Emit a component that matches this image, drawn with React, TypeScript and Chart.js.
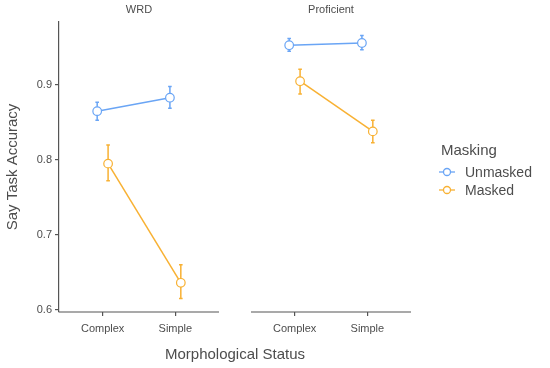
import React, { useEffect, useRef } from "react";
import { Chart, registerables } from "chart.js";

Chart.register(...registerables);

const panels = ["WRD", "Proficient"];
const categories = ["Complex", "Simple"];
const seriesNames = ["Unmasked", "Masked"];
const seriesColors = ["#6aa5f5", "#f8b133"];

// values per panel: [Complex, Simple]
const unmaskedMean = [[0.865, 0.883], [0.953, 0.956]];
const unmaskedLow = [[0.853, 0.869], [0.945, 0.947]];
const unmaskedHigh = [[0.877, 0.898], [0.962, 0.966]];
const maskedMean = [[0.795, 0.636], [0.905, 0.838]];
const maskedLow = [[0.772, 0.615], [0.888, 0.823]];
const maskedHigh = [[0.820, 0.660], [0.921, 0.853]];

const yTicks = [0.6, 0.7, 0.8, 0.9];

// category positions on the shared linear x scale
const panelCatX = [[1, 2], [3.64, 4.64]];
const panelRange = [[0.4, 2.6], [3.04, 5.24]];
const dodge = [-0.075, 0.075];

const means = [unmaskedMean, maskedMean];
const lows = [unmaskedLow, maskedLow];
const highs = [unmaskedHigh, maskedHigh];

const FONT = "'Liberation Sans', Arial, sans-serif";
const GREY = "#4d4d4d";

export default function App() {
  const ref = useRef<HTMLCanvasElement | null>(null);
  useEffect(() => {
    if (!ref.current) return;
    const datasets: any[] = [];
    for (let p = 0; p < panels.length; p++) {
      for (let s = 0; s < seriesNames.length; s++) {
        datasets.push({
          label: seriesNames[s],
          data: categories.map((_, c) => ({ x: panelCatX[p][c] + dodge[s], y: means[s][p][c] })),
          borderColor: seriesColors[s],
          backgroundColor: "#ffffff",
          pointBorderColor: seriesColors[s],
          pointBackgroundColor: "#ffffff",
          pointRadius: 4.3,
          pointBorderWidth: 1.2,
          borderWidth: 1.5,
          showLine: true,
        });
      }
    }
    const facetPlugin = {
      id: "facet",
      beforeDatasetsDraw(chart: any) {
        const ctx = chart.ctx;
        const xs = chart.scales.x;
        const ys = chart.scales.y;
        ctx.save();
        for (let p = 0; p < panels.length; p++) {
          for (let s = 0; s < seriesNames.length; s++) {
            for (let c = 0; c < categories.length; c++) {
              const px = xs.getPixelForValue(panelCatX[p][c] + dodge[s]);
              const lo = ys.getPixelForValue(lows[s][p][c]);
              const hi = ys.getPixelForValue(highs[s][p][c]);
              ctx.strokeStyle = seriesColors[s];
              ctx.lineWidth = 1.5;
              ctx.beginPath();
              ctx.moveTo(px, lo);
              ctx.lineTo(px, hi);
              ctx.moveTo(px - 1.8, lo);
              ctx.lineTo(px + 1.8, lo);
              ctx.moveTo(px - 1.8, hi);
              ctx.lineTo(px + 1.8, hi);
              ctx.stroke();
            }
          }
        }
        ctx.restore();
      },
      afterDraw(chart: any) {
        const ctx = chart.ctx;
        const xs = chart.scales.x;
        const area = chart.chartArea;
        ctx.save();
        ctx.strokeStyle = "#555555";
        ctx.lineWidth = 1.2;
        for (let p = 0; p < panels.length; p++) {
          const a = xs.getPixelForValue(panelRange[p][0]);
          const b = xs.getPixelForValue(panelRange[p][1]);
          ctx.beginPath();
          ctx.moveTo(a, area.bottom);
          ctx.lineTo(b, area.bottom);
          ctx.stroke();
          ctx.fillStyle = GREY;
          ctx.font = `11px ${FONT}`;
          ctx.textAlign = "center";
          ctx.textBaseline = "middle";
          ctx.fillText(panels[p], (a + b) / 2, 10);
        }
        // legend
        ctx.textAlign = "left";
        ctx.textBaseline = "middle";
        ctx.fillStyle = GREY;
        ctx.font = `15px ${FONT}`;
        ctx.fillText("Masking", 441, 151);
        ctx.font = `14px ${FONT}`;
        for (let s = 0; s < seriesNames.length; s++) {
          const y = 172 + s * 18;
          ctx.strokeStyle = seriesColors[s];
          ctx.lineWidth = 1.3;
          ctx.beginPath();
          ctx.moveTo(439, y);
          ctx.lineTo(455, y);
          ctx.stroke();
          ctx.beginPath();
          ctx.arc(447, y, 3.5, 0, Math.PI * 2);
          ctx.fillStyle = "#ffffff";
          ctx.fill();
          ctx.stroke();
          ctx.fillStyle = GREY;
          ctx.fillText(seriesNames[s], 465, y + 1);
        }
        ctx.restore();
      },
    };
    const chart = new Chart(ref.current, {
      type: "scatter",
      data: { datasets },
      options: {
        animation: false,
        responsive: false,
        maintainAspectRatio: false,
        layout: { padding: { top: 22, right: 139, left: 0, bottom: 0 } },
        plugins: { legend: { display: false }, tooltip: { enabled: false } },
        scales: {
          x: {
            type: "linear",
            min: panelRange[0][0],
            max: panelRange[1][1],
            afterBuildTicks(scale: any) {
              const t: any[] = [];
              panelCatX.forEach((arr) => arr.forEach((v) => t.push({ value: v })));
              scale.ticks = t;
            },
            afterFit(scale: any) {
              scale.height = 56;
            },
            ticks: {
              autoSkip: false,
              maxRotation: 0,
              padding: 6,
              color: GREY,
              font: { family: FONT, size: 11 },
              callback: (v: any) => {
                for (let p = 0; p < panelCatX.length; p++) {
                  for (let c = 0; c < categories.length; c++) {
                    if (Math.abs(panelCatX[p][c] - Number(v)) < 1e-6) return categories[c];
                  }
                }
                return "";
              },
            },
            grid: { display: true, drawOnChartArea: false, drawTicks: true, tickLength: 4, color: "#555555", lineWidth: 1.2 },
            border: { display: false },
            title: {
              display: true,
              text: "Morphological Status",
              color: GREY,
              font: { family: FONT, size: 15 },
              padding: { top: 4, bottom: 4 },
            },
          },
          y: {
            min: 0.597,
            max: 0.984,
            afterBuildTicks(scale: any) {
              scale.ticks = yTicks.map((v) => ({ value: v }));
            },
            afterFit(scale: any) {
              scale.width = 59;
            },
            ticks: {
              padding: 3,
              color: GREY,
              font: { family: FONT, size: 11 },
              callback: (v: any) => Number(v).toFixed(1),
            },
            grid: { display: true, drawOnChartArea: false, drawTicks: true, tickLength: 4, color: "#555555", lineWidth: 1.2 },
            border: { display: true, color: "#555555", width: 1.2 },
            title: {
              display: true,
              text: "Say Task Accuracy",
              color: GREY,
              font: { family: FONT, size: 15 },
              padding: { top: 4, bottom: 4 },
            },
          },
        },
      },
      plugins: [facetPlugin],
    } as any);
    return () => chart.destroy();
  }, []);
  return (
    <div style={{ position: "absolute", left: 0, top: 0, width: 550, height: 368, background: "#fff" }}>
      <canvas ref={ref} width={550} height={368} style={{ width: 550, height: 368 }} />
    </div>
  );
}
